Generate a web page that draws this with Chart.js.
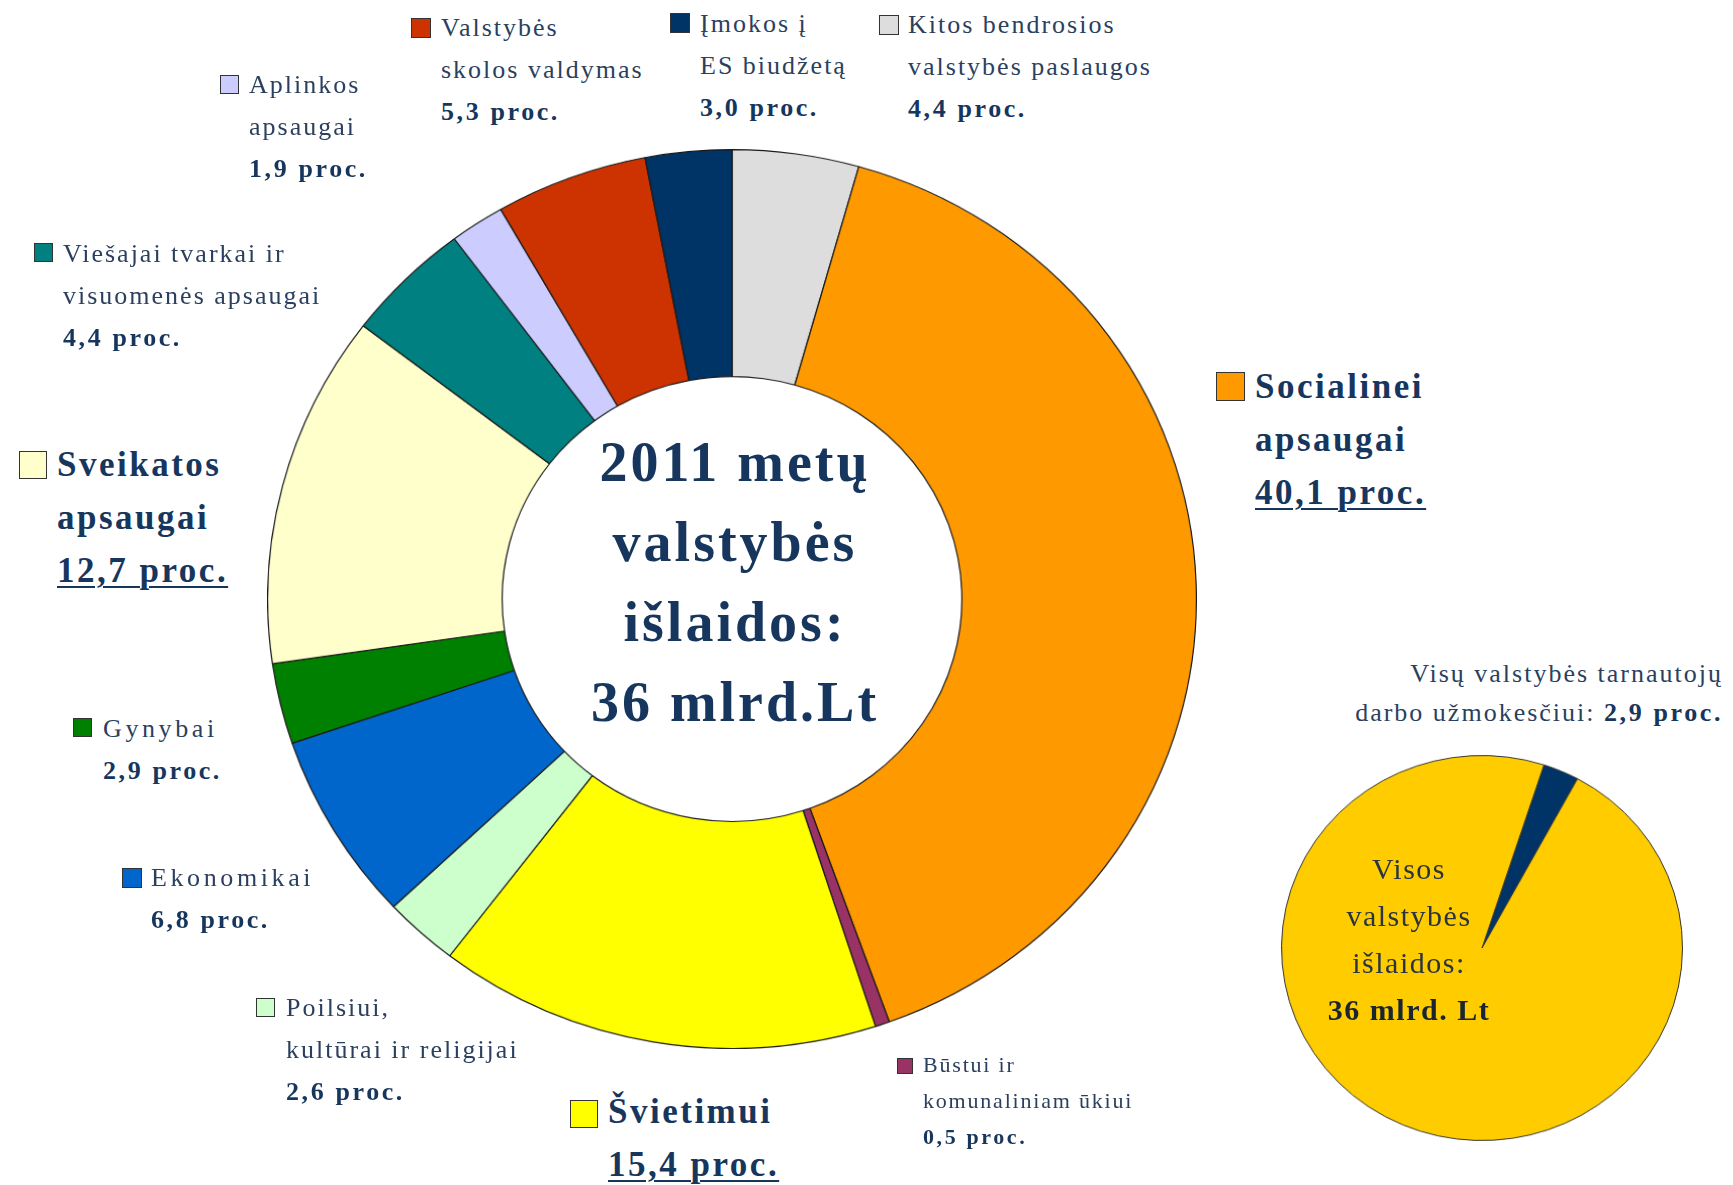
<!DOCTYPE html>
<html>
<head>
<meta charset="utf-8">
<script src="https://cdn.jsdelivr.net/npm/chart.js@4.4.0/dist/chart.umd.min.js"></script>
<style>
  body { margin: 0; background: #fff; }
  #page { position: relative; width: 1733px; height: 1185px; overflow: hidden; }
  canvas { position: absolute; }
  .lbl { position: absolute; font-family: 'Liberation Serif', serif; color: #2b3f5e; font-size: 26px;
         line-height: 42px; white-space: nowrap; letter-spacing: 2px; }
  .lbl b { color: #17365d; letter-spacing: 2.6px; }
  .wide { letter-spacing: 3.6px; }
  .big { font-size: 35px; font-weight: bold; line-height: 53px; color: #17365d; letter-spacing: 2.5px; }
  .big u { text-decoration-thickness: 2px; text-underline-offset: 4px; }
  .sm { font-size: 22px; line-height: 36px; letter-spacing: 1.8px; }
  .sq { position: absolute; border: 1px solid #333; box-sizing: border-box; }
  .center { text-align: center; font-size: 56px; font-weight: bold; line-height: 80px; color: #17365d; letter-spacing: 3px; }
  .inner { text-align: center; font-size: 30px; line-height: 47px; color: #2a3340; letter-spacing: 1.5px; }
  .inner b { color: #1b2530; letter-spacing: 1.5px; }
</style>
</head>
<body>
<div id="page">
  <canvas id="mainChart" width="920" height="920" style="left:267px; top:149px; width:930px; height:900px;"></canvas>
  <canvas id="wageChart" width="400" height="400" style="left:1281px; top:755px; width:402px; height:386px;"></canvas>
</div>
<script>
// 2011 metų valstybės išlaidos pagal funkcijas, proc. (pagal laikrodžio rodyklę nuo viršaus)
const categories = [
  'Kitos bendrosios valstybės paslaugos',
  'Socialinei apsaugai',
  'Būstui ir komunaliniam ūkiui',
  'Švietimui',
  'Poilsiui, kultūrai ir religijai',
  'Ekonomikai',
  'Gynybai',
  'Sveikatos apsaugai',
  'Viešajai tvarkai ir visuomenės apsaugai',
  'Aplinkos apsaugai',
  'Valstybės skolos valdymas',
  'Įmokos į ES biudžetą'
];
const shares = [4.4, 40.1, 0.5, 15.4, 2.6, 6.8, 2.9, 12.7, 4.4, 1.9, 5.3, 3.0];

const wageCategories = ['Visų valstybės tarnautojų darbo užmokesčiui', 'Kitos išlaidos'];
const wageShares = [2.9, 97.1];

const sliceColors = ['#dddddd', '#ff9900', '#993366', '#ffff00', '#ccffcc', '#0066cc',
                     '#008000', '#ffffcc', '#008080', '#ccccff', '#cc3300', '#003366'];

function proc(v) { return v.toFixed(1).replace('.', ',') + ' proc.'; }

// label layout: index into categories, text lines, block position, legend square
const labelLayout = [
  { i: 9,  lines: ['Aplinkos', 'apsaugai'], x: 249, y: 64, sq: [220, 75, 19] },
  { i: 10, lines: ['Valstybės', 'skolos valdymas'], x: 441, y: 7, sq: [411, 18, 20] },
  { i: 11, lines: ['Įmokos į', 'ES biudžetą'], x: 700, y: 3, sq: [670, 13, 20] },
  { i: 0,  lines: ['Kitos bendrosios', 'valstybės paslaugos'], x: 908, y: 4, sq: [879, 15, 20] },
  { i: 1,  lines: ['Socialinei', 'apsaugai'], x: 1255, y: 360, sq: [1216, 372, 29], big: true },
  { i: 8,  lines: ['Viešajai tvarkai ir', 'visuomenės apsaugai'], x: 63, y: 233, sq: [34, 243, 19] },
  { i: 7,  lines: ['Sveikatos', 'apsaugai'], x: 57, y: 438, sq: [19, 451, 28], big: true },
  { i: 6,  lines: ['Gynybai'], x: 103, y: 708, sq: [73, 718, 19], wide: true },
  { i: 5,  lines: ['Ekonomikai'], x: 151, y: 857, sq: [122, 868, 20], wide: true },
  { i: 4,  lines: ['Poilsiui,', 'kultūrai ir religijai'], x: 286, y: 987, sq: [256, 998, 19] },
  { i: 3,  lines: ['Švietimui'], x: 608, y: 1085, sq: [570, 1100, 28], big: true },
  { i: 2,  lines: ['Būstui ir', 'komunaliniam ūkiui'], x: 923, y: 1047, sq: [897, 1058, 16], small: true }
];

const page = document.getElementById('page');
labelLayout.forEach(function (l) {
  const d = document.createElement('div');
  d.className = 'lbl' + (l.big ? ' big' : '') + (l.small ? ' sm' : '') + (l.wide ? ' wide' : '');
  d.style.left = l.x + 'px';
  d.style.top = l.y + 'px';
  const num = l.big ? '<u>' + proc(shares[l.i]) + '</u>' : '<b>' + proc(shares[l.i]) + '</b>';
  d.innerHTML = l.lines.join('<br>') + '<br>' + num;
  page.appendChild(d);
  const s = document.createElement('div');
  s.className = 'sq';
  s.style.left = l.sq[0] + 'px';
  s.style.top = l.sq[1] + 'px';
  s.style.width = l.sq[2] + 'px';
  s.style.height = l.sq[2] + 'px';
  s.style.background = sliceColors[l.i];
  page.appendChild(s);
});

const centre = document.createElement('div');
centre.className = 'lbl center';
centre.style.left = '435px'; centre.style.top = '422px'; centre.style.width = '600px';
centre.innerHTML = '2011 metų<br>valstybės<br>išlaidos:<br>36 mlrd.Lt';
page.appendChild(centre);

const wageHead = document.createElement('div');
wageHead.className = 'lbl';
wageHead.style.right = '10px'; wageHead.style.top = '654px';
wageHead.style.textAlign = 'right'; wageHead.style.lineHeight = '39px';
wageHead.innerHTML = 'Visų valstybės tarnautojų<br>darbo užmokesčiui: <b>' + proc(wageShares[0]) + '</b>';
page.appendChild(wageHead);

const wageInner = document.createElement('div');
wageInner.className = 'lbl inner';
wageInner.style.left = '1259px'; wageInner.style.top = '845px'; wageInner.style.width = '300px';
wageInner.innerHTML = 'Visos<br>valstybės<br>išlaidos:<br><b>36 mlrd. Lt</b>';
page.appendChild(wageInner);

new Chart(document.getElementById('mainChart').getContext('2d'), {
  type: 'doughnut',
  data: {
    labels: categories,
    datasets: [{
      data: shares,
      backgroundColor: sliceColors,
      borderColor: '#1a1a1a',
      borderWidth: 1.2
    }]
  },
  options: {
    responsive: false,
    animation: false,
    cutout: '49.5%',
    rotation: 0,
    plugins: { legend: { display: false }, tooltip: { enabled: false } }
  }
});

new Chart(document.getElementById('wageChart').getContext('2d'), {
  type: 'pie',
  data: {
    labels: wageCategories,
    datasets: [{
      data: wageShares,
      backgroundColor: ['#003366', '#ffcc00'],
      borderColor: '#333333',
      borderWidth: 1
    }]
  },
  options: {
    responsive: false,
    animation: false,
    rotation: 18,
    plugins: { legend: { display: false }, tooltip: { enabled: false } }
  }
});
</script>
</body>
</html>
